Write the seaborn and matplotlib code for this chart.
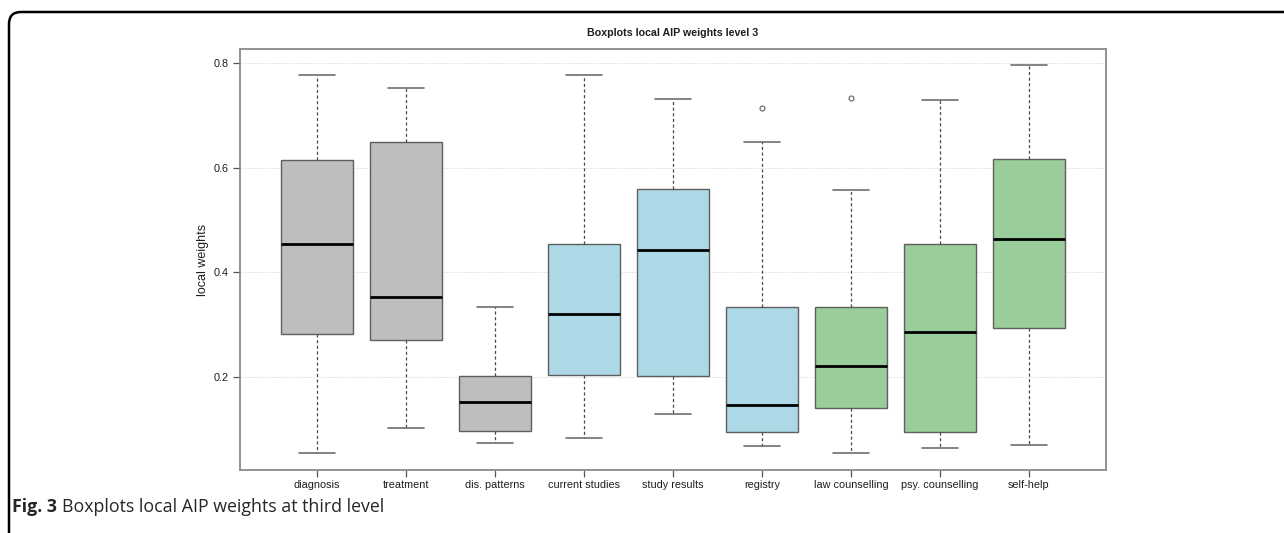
import matplotlib
matplotlib.use("Agg")
import matplotlib.pyplot as plt
from matplotlib.patches import FancyBboxPatch
import seaborn as sns
import pandas as pd

# values
categories = ["diagnosis", "treatment", "dis. patterns", "current studies",
              "study results", "registry", "law counselling",
              "psy. counselling", "self-help"]
whisker_low = [0.054, 0.103, 0.073, 0.083, 0.130, 0.068, 0.055, 0.065, 0.070]
q1 = [0.282, 0.271, 0.096, 0.204, 0.201, 0.094, 0.141, 0.095, 0.293]
median = [0.454, 0.352, 0.152, 0.321, 0.443, 0.146, 0.220, 0.286, 0.464]
q3 = [0.615, 0.649, 0.201, 0.455, 0.559, 0.334, 0.334, 0.455, 0.617]
whisker_high = [0.778, 0.752, 0.334, 0.777, 0.731, 0.650, 0.557, 0.730, 0.797]
outliers = [[], [], [], [], [], [0.714], [0.733], [], []]
box_colors = ["#BEBEBE"] * 3 + ["#ADD8E6"] * 3 + ["#9BCD9B"] * 3

# points whose quartiles / whiskers give back the five-number summaries
rows = []
for cat, lo, a, m, b, hi, out in zip(categories, whisker_low, q1, median,
                                     q3, whisker_high, outliers):
    pts = [lo, a, a, m, m, b, b, hi] + (out if out else [hi])
    rows += [(cat, v) for v in pts]
df = pd.DataFrame(rows, columns=["category", "value"])

sns.set_theme(style="ticks")
plt.rcParams["font.family"] = ["Liberation Sans", "DejaVu Sans"]

W, H = 1284, 533
fig = plt.figure(figsize=(W / 100, H / 100), dpi=100)
ax = fig.add_axes([240 / W, 1 - 470 / H, 866 / W, 421 / H])

sns.boxplot(
    data=df, x="category", y="value", hue="category",
    order=categories, hue_order=categories, palette=box_colors,
    saturation=1, width=0.8, whis=1.5, linecolor="#5e5e5e", linewidth=1,
    legend=False, ax=ax, capwidths=0.4,
    medianprops=dict(color="black", linewidth=2.0),
    whiskerprops=dict(color="#4a4a4a", linestyle=(0, (2.5, 2)), linewidth=0.9),
    capprops=dict(color="#6e6e6e", linewidth=1.2),
    flierprops=dict(marker="o", markersize=3.5, markerfacecolor="none",
                    markeredgecolor="#6e6e6e", markeredgewidth=0.9),
)

ax.set_xlim(-0.865, 8.865)
ax.set_ylim(0.022, 0.827)
ax.set_yticks([0.2, 0.4, 0.6, 0.8])
ax.set_yticklabels(["0.2", "0.4", "0.6", "0.8"])
ax.yaxis.grid(True, linestyle=(0, (1, 1.5)), color="#d4d4d4", linewidth=0.7)
ax.set_axisbelow(True)
for sp in ax.spines.values():
    sp.set_visible(True)
    sp.set_color("#8a8a8a")
    sp.set_linewidth(1.3)
ax.tick_params(axis="both", length=5, width=0.9, color="#555555",
               labelsize=7.8, labelcolor="#1e1e1e")
ax.tick_params(axis="y", pad=3)
ax.tick_params(axis="x", pad=2.5)
ax.set_xlabel("")
ax.set_ylabel("local weights", fontsize=9, color="#1e1e1e", va="center")
ax.yaxis.set_label_coords((203 - 240) / 866, 0.5)

fig.text(673 / W, 1 - 33 / H, "Boxplots local AIP weights level 3",
         ha="center", va="center", fontsize=7.7, fontweight="bold",
         color="#1e1e1e")

# rounded frame of the figure panel (only top-left corner is visible)
frame = FancyBboxPatch((9, -40), 1400, H - 12 + 40,
                       boxstyle="round,pad=0,rounding_size=12",
                       transform=None, fill=False, edgecolor="black",
                       linewidth=1.8, figure=fig)
fig.patches.append(frame)

# caption with bold figure number
t1 = fig.text(12 / W, 1 - 507 / H, "Fig. 3", fontsize=12.8, fontweight="bold",
              family=["Open Sans", "DejaVu Sans"], va="center", ha="left")
fig.canvas.draw()
bb = t1.get_window_extent(fig.canvas.get_renderer())
fig.text((bb.x1 + 5) / W, 1 - 507 / H, "Boxplots local AIP weights at third level",
         fontsize=12.8, family=["Open Sans", "DejaVu Sans"], va="center", ha="left")

fig.savefig("out.png", dpi=100)
